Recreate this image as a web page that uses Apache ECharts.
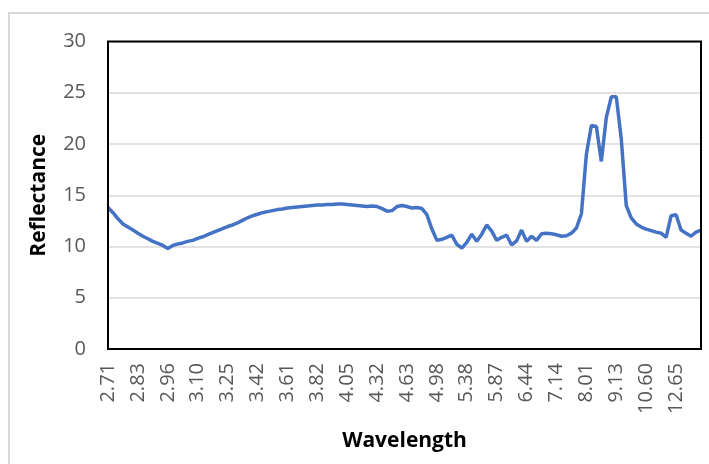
<!DOCTYPE html>
<html>
<head>
<meta charset="utf-8">
<style>
  html, body { margin: 0; padding: 0; background: #fff; }
  #chart { width: 709px; height: 464px; }
</style>
<script src="https://cdn.jsdelivr.net/npm/echarts@6/dist/echarts.min.js"></script>
</head>
<body>
<div id="chart"></div>
<script>
// Wavelength labels (µm), one every 6 samples along the spectrum
const tickLabels = ['2.71','2.83','2.96','3.10','3.25','3.42','3.61','3.82','4.05','4.32',
                    '4.63','4.98','5.38','5.87','6.44','7.14','8.01','9.13','10.60','12.65'];
const samplesPerLabel = 6;

// Reflectance (%) per sample, evenly spaced along the axis
const reflectance = [
  13.8, 13.3, 12.7, 12.2, 11.9, 11.6, 11.3, 11.0, 10.75, 10.5,
  10.3, 10.1, 9.8, 10.1, 10.25, 10.35, 10.5, 10.6, 10.8, 10.95,
  11.15, 11.35, 11.55, 11.75, 11.95, 12.1, 12.3, 12.55, 12.8, 13.0,
  13.15, 13.3, 13.4, 13.5, 13.6, 13.65, 13.75, 13.8, 13.85, 13.9,
  13.95, 14.0, 14.05, 14.05, 14.1, 14.1, 14.15, 14.15, 14.1, 14.05,
  14.0, 13.95, 13.9, 13.95, 13.9, 13.7, 13.45, 13.5, 13.9, 14.0,
  13.9, 13.75, 13.8, 13.7, 13.1, 11.7, 10.6, 10.7, 10.9, 11.1,
  10.2, 9.85, 10.4, 11.2, 10.5, 11.2, 12.1, 11.5, 10.6, 10.9,
  11.1, 10.15, 10.55, 11.6, 10.5, 11.0, 10.6, 11.25, 11.3, 11.25,
  11.15, 11.0, 11.05, 11.3, 11.8, 13.2, 19.0, 21.8, 21.7, 18.3,
  22.6, 24.6, 24.6, 20.5, 14.0, 12.8, 12.2, 11.9, 11.7, 11.55,
  11.4, 11.3, 10.9, 13.0, 13.1, 11.6, 11.3, 11.0, 11.4, 11.6
];

const seriesData = reflectance.map((v, i) => [i, v]);

// Plot area placement
const plot = { left: 108, top: 41.5, width: 593, height: 307.5 };

const chart = echarts.init(document.getElementById('chart'), null, { renderer: 'canvas' });

const labelFont = { color: '#595959', fontSize: 20, fontFamily: 'Open Sans' };
const titleFont = { color: '#000', fontSize: 21, fontWeight: 'bold', fontFamily: 'Open Sans' };

chart.setOption({
  animation: false,
  backgroundColor: '#fff',
  graphic: [{
    type: 'rect',
    shape: { x: 9, y: 13, width: 720, height: 470 },
    style: { fill: 'none', stroke: '#d9d9d9', lineWidth: 2 },
    silent: true,
    z: -10
  }, {
    // black frame around the plot area, drawn above the gridlines
    type: 'rect',
    shape: { x: plot.left, y: plot.top, width: plot.width, height: plot.height },
    style: { fill: 'none', stroke: '#000', lineWidth: 2 },
    silent: true,
    z: 100
  }],
  grid: Object.assign({ show: false }, plot),
  xAxis: {
    type: 'value',
    min: 0,
    max: reflectance.length - 1,
    interval: samplesPerLabel,
    name: 'Wavelength',
    nameLocation: 'middle',
    nameGap: 82,
    nameTextStyle: titleFont,
    axisLine: { show: false },
    axisTick: { show: false },
    splitLine: { show: false },
    axisLabel: Object.assign({
      rotate: 90,
      margin: 14,
      showMaxLabel: false,
      formatter: v => {
        const k = v / samplesPerLabel;
        return Number.isInteger(k) && tickLabels[k] ? tickLabels[k] : '';
      }
    }, labelFont)
  },
  yAxis: {
    type: 'value',
    min: 0, max: 30, interval: 5,
    name: 'Reflectance',
    nameLocation: 'middle',
    nameGap: 58,
    nameTextStyle: titleFont,
    axisLine: { show: false },
    axisTick: { show: false },
    splitLine: { show: true, lineStyle: { color: '#d9d9d9', width: 1.5 } },
    axisLabel: Object.assign({ margin: 22 }, labelFont)
  },
  series: [{
    type: 'line',
    data: seriesData,
    showSymbol: false,
    lineStyle: { color: '#4472C4', width: 3.5 },
    itemStyle: { color: '#4472C4' }
  }]
});
</script>
</body>
</html>
